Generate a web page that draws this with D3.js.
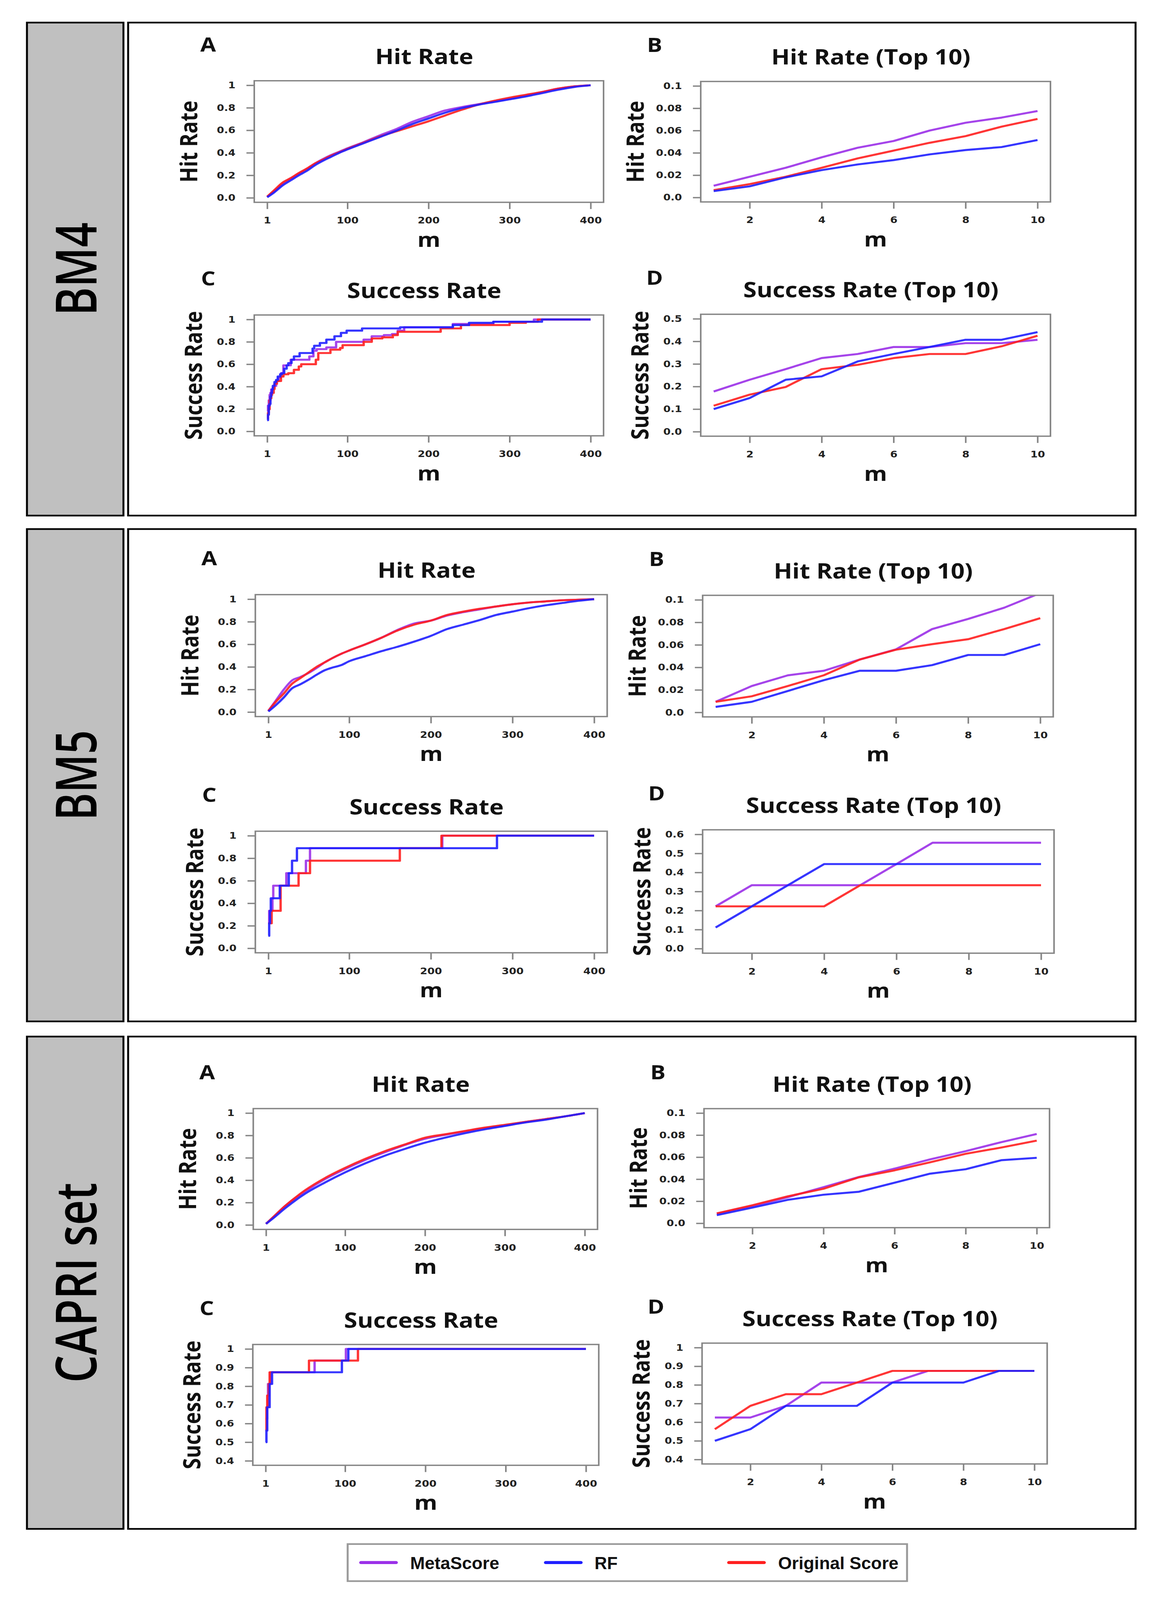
<!DOCTYPE html>
<html>
<head>
<meta charset="utf-8">
<script src="https://cdn.jsdelivr.net/npm/d3@7"></script>
<style>
  html, body { margin: 0; padding: 0; background: #fff; overflow: hidden; }
  #fig { display: block; width: 100vw; height: 100vh; }
</style>
</head>
<body>
<!-- drawn in the 2967x4748 figure space, stretched to whatever the window gives -->
<svg id="fig" viewBox="0 0 2967 4748" preserveAspectRatio="none"></svg>
<script>
// ---- data ----
const sectionNames = ["BM4", "BM5", "CAPRI set"];
const methods = ["MetaScore", "RF", "Original Score"];

const ticks400 = [1, 100, 200, 300, 400];
const ticks10 = [2, 4, 6, 8, 10];
const yTicksUnit = [0, 0.2, 0.4, 0.6, 0.8, 1];
const yLabelsUnit = ["0.0", "0.2", "0.4", "0.6", "0.8", "1"];
const yTicksHit10 = [0, 0.02, 0.04, 0.06, 0.08, 0.1];
const yLabelsHit10 = ["0.0", "0.02", "0.04", "0.06", "0.08", "0.1"];
const yTicksBm4Suc10 = [0, 0.1, 0.2, 0.3, 0.4, 0.5];
const yLabelsBm4Suc10 = ["0.0", "0.1", "0.2", "0.3", "0.4", "0.5"];
const yTicksBm5Suc10 = [0, 0.1, 0.2, 0.3, 0.4, 0.5, 0.6];
const yLabelsBm5Suc10 = ["0.0", "0.1", "0.2", "0.3", "0.4", "0.5", "0.6"];
const yTicksCapri = [0.4, 0.5, 0.6, 0.7, 0.8, 0.9, 1];
const yLabelsCapri = ["0.4", "0.5", "0.6", "0.7", "0.8", "0.9", "1"];

const top10M = [1, 2, 3, 4, 5, 6, 7, 8, 9, 10];

// BM4
const bm4HitMeta = [[1,0.01],[10,0.06],[20,0.126],[30,0.17],[40,0.215],[50,0.255],[60,0.305],[70,0.345],[80,0.38],[90,0.41],[100,0.44],[120,0.495],[140,0.555],[160,0.61],[180,0.675],[200,0.725],[220,0.775],[240,0.805],[260,0.83],[280,0.855],[300,0.88],[320,0.91],[340,0.94],[360,0.97],[380,0.99],[400,1]];
const bm4HitRF = [[1,0.005],[10,0.05],[20,0.11],[30,0.155],[40,0.2],[50,0.24],[60,0.29],[70,0.33],[80,0.365],[90,0.4],[100,0.43],[120,0.485],[140,0.54],[160,0.595],[180,0.655],[200,0.705],[220,0.755],[240,0.795],[260,0.825],[280,0.85],[300,0.875],[320,0.9],[340,0.93],[360,0.96],[380,0.985],[400,1]];
const bm4HitOrig = [[1,0.01],[10,0.07],[20,0.135],[30,0.175],[40,0.22],[50,0.26],[60,0.305],[70,0.34],[80,0.375],[90,0.405],[100,0.435],[120,0.49],[140,0.545],[160,0.59],[180,0.635],[200,0.68],[220,0.73],[240,0.78],[260,0.825],[280,0.86],[300,0.89],[320,0.915],[340,0.94],[360,0.97],[380,0.99],[400,1]];
const bm4Hit10Meta = [0.0105,0.0186,0.0266,0.036,0.0446,0.0506,0.060,0.067,0.0716,0.0775];
const bm4Hit10RF = [0.0057,0.010,0.018,0.0245,0.0296,0.0335,0.0386,0.0425,0.0452,0.0515];
const bm4Hit10Orig = [0.0066,0.012,0.0186,0.0266,0.035,0.042,0.049,0.055,0.0635,0.0704];
const bm4SucMeta = [[1,0.178],[2,0.23],[3,0.277],[4,0.326],[5,0.344],[6,0.375],[8,0.392],[10,0.407],[12,0.45],[15,0.48],[18,0.52],[21,0.59],[30,0.64],[53,0.67],[58,0.72],[62,0.735],[74,0.75],[86,0.8],[120,0.82],[130,0.85],[145,0.86],[155,0.87],[162,0.9],[170,0.93],[230,0.96],[280,0.98],[330,1],[400,1]];
const bm4SucRF = [[1,0.1],[2,0.149],[3,0.23],[4,0.245],[5,0.311],[6,0.344],[7,0.375],[8,0.407],[10,0.441],[12,0.46],[14,0.49],[17,0.51],[19,0.52],[22,0.56],[25,0.59],[27,0.61],[31,0.64],[34,0.67],[41,0.7],[57,0.74],[59,0.765],[66,0.79],[74,0.82],[84,0.85],[92,0.88],[99,0.9],[118,0.92],[165,0.93],[230,0.95],[250,0.97],[280,0.98],[340,1],[400,1]];
const bm4SucOrig = [[1,0.115],[2,0.164],[3,0.198],[4,0.277],[5,0.296],[6,0.326],[7,0.344],[9,0.378],[10,0.425],[13,0.45],[18,0.49],[21,0.51],[27,0.52],[34,0.55],[40,0.58],[43,0.6],[61,0.64],[64,0.7],[79,0.73],[91,0.745],[94,0.77],[120,0.8],[130,0.83],[143,0.84],[156,0.86],[162,0.89],[215,0.92],[240,0.95],[300,0.97],[320,0.98],[335,1],[400,1]];
const bm4Suc10Meta = [0.178,0.23,0.277,0.326,0.344,0.375,0.375,0.392,0.392,0.407];
const bm4Suc10RF = [0.1,0.149,0.23,0.245,0.311,0.344,0.375,0.407,0.407,0.441];
const bm4Suc10Orig = [0.115,0.164,0.198,0.277,0.296,0.326,0.344,0.344,0.378,0.425];

// BM5
const bm5HitMeta = [[1,0.01],[10,0.1],[20,0.2],[30,0.28],[40,0.31],[50,0.345],[60,0.39],[70,0.44],[80,0.48],[90,0.515],[100,0.545],[120,0.6],[140,0.66],[160,0.73],[180,0.785],[200,0.81],[220,0.855],[240,0.885],[260,0.91],[280,0.935],[300,0.955],[320,0.97],[340,0.98],[360,0.99],[380,0.995],[400,1]];
const bm5HitRF = [[1,0.005],[10,0.06],[20,0.13],[30,0.21],[40,0.245],[50,0.285],[60,0.33],[70,0.37],[80,0.395],[90,0.415],[100,0.45],[120,0.495],[140,0.54],[160,0.58],[180,0.625],[200,0.675],[220,0.735],[240,0.775],[260,0.815],[280,0.86],[300,0.89],[320,0.92],[340,0.945],[360,0.965],[380,0.985],[400,1]];
const bm5HitOrig = [[1,0.01],[10,0.09],[20,0.165],[30,0.25],[40,0.3],[50,0.35],[60,0.4],[70,0.44],[80,0.48],[90,0.515],[100,0.545],[120,0.6],[140,0.66],[160,0.725],[180,0.775],[200,0.81],[220,0.86],[240,0.89],[260,0.915],[280,0.935],[300,0.955],[320,0.97],[340,0.98],[360,0.99],[380,0.995],[400,1]];
const bm5Hit10Meta = [0.0094,0.0234,0.0329,0.037,0.047,0.056,0.074,0.083,0.093,0.106];
const bm5Hit10RF = [0.0049,0.0094,0.019,0.0286,0.037,0.037,0.042,0.051,0.051,0.0606];
const bm5Hit10Orig = [0.0094,0.0143,0.0234,0.033,0.047,0.0557,0.0606,0.065,0.074,0.0837];
const bm5SucMeta = [[1,0.222],[2,0.333],[6,0.444],[7,0.556],[23,0.667],[47,0.778],[52,0.889],[214,1],[400,1]];
const bm5SucRF = [[1,0.111],[2,0.222],[3,0.333],[4,0.444],[15,0.556],[26,0.667],[30,0.778],[36,0.889],[281,1],[400,1]];
const bm5SucOrig = [[1,0.222],[5,0.333],[16,0.556],[38,0.667],[52,0.778],[162,0.889],[213,1],[400,1]];
const bm5Suc10Meta = [0.222,0.333,0.333,0.333,0.333,0.444,0.556,0.556,0.556,0.556];
const bm5Suc10RF = [0.111,0.222,0.333,0.444,0.444,0.444,0.444,0.444,0.444,0.444];
const bm5Suc10Orig = [0.222,0.222,0.222,0.222,0.333,0.333,0.333,0.333,0.333,0.333];

// CAPRI set
const capHitMeta = [[1,0.01],[10,0.07],[25,0.17],[50,0.3],[75,0.41],[100,0.5],[125,0.58],[150,0.65],[175,0.715],[200,0.77],[225,0.805],[250,0.835],[275,0.865],[300,0.89],[325,0.92],[350,0.945],[375,0.97],[400,1]];
const capHitRF = [[1,0.01],[10,0.06],[25,0.15],[50,0.28],[75,0.38],[100,0.47],[125,0.55],[150,0.62],[175,0.68],[200,0.735],[225,0.78],[250,0.82],[275,0.855],[300,0.885],[325,0.915],[350,0.94],[375,0.97],[400,1]];
const capHitOrig = [[1,0.01],[10,0.07],[25,0.17],[50,0.31],[75,0.42],[100,0.51],[125,0.59],[150,0.66],[175,0.72],[200,0.78],[225,0.81],[250,0.84],[275,0.87],[300,0.895],[325,0.92],[350,0.945],[375,0.97],[400,1]];
const capHit10Meta = [0.0087,0.0155,0.0237,0.0327,0.042,0.0496,0.058,0.0654,0.0736,0.081];
const capHit10RF = [0.0074,0.0142,0.0213,0.0259,0.0286,0.0368,0.045,0.049,0.0572,0.0594];
const capHit10Orig = [0.009,0.0163,0.0245,0.0313,0.0417,0.048,0.0553,0.063,0.0687,0.075];
const capSucMeta = [[1,0.625],[3,0.6875],[4,0.8125],[7,0.875],[62,0.9375],[101,1],[400,1]];
const capSucRF = [[1,0.5],[2,0.5625],[3,0.6875],[6,0.8125],[9,0.875],[96,0.9375],[104,1],[400,1]];
const capSucOrig = [[1,0.5625],[2,0.6875],[3,0.75],[5,0.8125],[6,0.875],[55,0.9375],[116,1],[400,1]];
const capSuc10Meta = [0.625,0.625,0.6875,0.8125,0.8125,0.8125,0.875,0.875,0.875,0.875];
const capSuc10RF = [0.5,0.5625,0.6875,0.6875,0.6875,0.8125,0.8125,0.8125,0.875,0.875];
const capSuc10Orig = [0.5625,0.6875,0.75,0.75,0.8125,0.875,0.875,0.875,0.875,0.875];

// ---- drawing ----
const svg = d3.select("#fig");
const colors = ["#9b30e8", "#1f1fff", "#ff1f1f"]; // MetaScore, RF, Original Score
const drawOrder = [0, 2, 1];
const titleFont = "'Open Sans', 'Noto Sans', sans-serif";
const tickFont = "'DejaVu Sans', Verdana, sans-serif";

const pairs = vals => vals.map((v, i) => [top10M[i], v]);

// section frames
const sectionY = [[67, 1530], [1570, 3031], [3076, 4537]];
const sectionLen = [277, 268, 594];
sectionNames.forEach((name, i) => {
  const [y0, y1] = sectionY[i];
  svg.append("rect").attr("x", 69).attr("y", y0).attr("width", 247).attr("height", y1 - y0)
    .attr("fill", "#c0c0c0").attr("stroke", "#000").attr("stroke-width", 5);
  svg.append("rect").attr("x", 328).attr("y", y0).attr("width", 2579).attr("height", y1 - y0)
    .attr("fill", "#fff").attr("stroke", "#000").attr("stroke-width", 5);
  const cy = (y0 + y1) / 2;
  svg.append("text")
    .attr("transform", `translate(247,${cy}) rotate(-90)`)
    .attr("text-anchor", "middle")
    .attr("font-family", titleFont).attr("font-weight", 600)
    .attr("font-size", 145)
    .attr("textLength", sectionLen[i]).attr("lengthAdjust", "spacingAndGlyphs")
    .text(name);
});

// one small R-style plot
function drawPlot(p, idx) {
  const x = d3.scaleLinear().domain(p.xDom).range(p.xPx);
  const y = d3.scaleLinear().domain(p.yDom).range(p.yPx);
  const xPad = 0.04 * (p.xDom[1] - p.xDom[0]);
  const yPad = 0.04 * (p.yDom[1] - p.yDom[0]);
  const left = x(p.xDom[0] - xPad), right = x(p.xDom[1] + xPad);
  const top = y(p.yDom[1] + yPad), bottom = y(p.yDom[0] - yPad);
  const g = svg.append("g");

  const clipId = "clip" + idx;
  svg.append("clipPath").attr("id", clipId).append("rect")
    .attr("x", left).attr("y", top).attr("width", right - left).attr("height", bottom - top);

  const line = d3.line().x(d => x(d[0])).y(d => y(d[1]))
    .curve(p.curve === "step" ? d3.curveStepAfter : p.curve === "smooth" ? d3.curveMonotoneX : d3.curveLinear);

  drawOrder.forEach(k => {
    g.append("path").datum(p.series[k])
      .attr("clip-path", `url(#${clipId})`)
      .attr("fill", "none")
      .attr("stroke", colors[k])
      .attr("stroke-opacity", 0.9)
      .attr("stroke-width", 6)
      .attr("stroke-linejoin", "round")
      .attr("d", line);
  });

  g.append("rect").attr("x", left).attr("y", top).attr("width", right - left).attr("height", bottom - top)
    .attr("fill", "none").attr("stroke", "#858585").attr("stroke-width", 4);

  const styleAxis = sel => {
    sel.select(".domain").remove();
    sel.selectAll("line").attr("stroke", "#858585").attr("stroke-width", 4);
    sel.selectAll("text").attr("fill", "#222").attr("font-family", tickFont)
      .attr("font-weight", "bold").attr("font-size", 27);
  };

  g.append("g").attr("transform", `translate(0,${bottom})`)
    .call(d3.axisBottom(x).tickValues(p.xTicks).tickSize(20).tickPadding(24).tickFormat(d3.format("d")))
    .call(styleAxis);

  g.append("g").attr("transform", `translate(${left},0)`)
    .call(d3.axisLeft(y).tickValues(p.yTicks).tickSize(20).tickPadding(28).tickFormat((d, i) => p.yLabels[i]))
    .call(styleAxis);

  const cx = (left + right) / 2;
  g.append("text").attr("x", cx - 12).attr("y", top - 50)
    .attr("text-anchor", "middle").attr("font-family", titleFont).attr("font-weight", 700)
    .attr("font-size", 62).attr("fill", "#111").text(p.title);
  g.append("text").attr("x", left - 118).attr("y", top - 87)
    .attr("text-anchor", "middle").attr("font-family", titleFont).attr("font-weight", 700)
    .attr("font-size", 58).attr("fill", "#111").text(p.letter);
  g.append("text").attr("x", cx).attr("y", bottom + 132)
    .attr("text-anchor", "middle").attr("font-family", titleFont).attr("font-weight", 700)
    .attr("font-size", 60).attr("fill", "#111").text("m");
  const yOff = p.ylab === "Hit Rate" ? 168 : 156;
  g.append("text")
    .attr("transform", `translate(${left - yOff + 22},${(top + bottom) / 2}) rotate(-90)`)
    .attr("text-anchor", "middle").attr("font-family", titleFont).attr("font-weight", 700)
    .attr("font-size", 60).attr("fill", "#111").text(p.ylab);
}

const plots = [
  // BM4
  { letter: "A", title: "Hit Rate", ylab: "Hit Rate", curve: "smooth", xDom: [1, 400], xPx: [684, 1512], yDom: [0, 1], yPx: [587, 253],
    xTicks: ticks400, yTicks: yTicksUnit, yLabels: yLabelsUnit, series: [bm4HitMeta, bm4HitRF, bm4HitOrig] },
  { letter: "B", title: "Hit Rate (Top 10)", ylab: "Hit Rate", curve: "linear", xDom: [1, 10], xPx: [1827, 2656], yDom: [0, 0.1], yPx: [586, 255],
    xTicks: ticks10, yTicks: yTicksHit10, yLabels: yLabelsHit10, series: [pairs(bm4Hit10Meta), pairs(bm4Hit10RF), pairs(bm4Hit10Orig)] },
  { letter: "C", title: "Success Rate", ylab: "Success Rate", curve: "step", xDom: [1, 400], xPx: [684, 1512], yDom: [0, 1], yPx: [1280, 948],
    xTicks: ticks400, yTicks: yTicksUnit, yLabels: yLabelsUnit, series: [bm4SucMeta, bm4SucRF, bm4SucOrig] },
  { letter: "D", title: "Success Rate (Top 10)", ylab: "Success Rate", curve: "linear", xDom: [1, 10], xPx: [1827, 2656], yDom: [0, 0.5], yPx: [1281, 946],
    xTicks: ticks10, yTicks: yTicksBm4Suc10, yLabels: yLabelsBm4Suc10, series: [pairs(bm4Suc10Meta), pairs(bm4Suc10RF), pairs(bm4Suc10Orig)] },
  // BM5
  { letter: "A", title: "Hit Rate", ylab: "Hit Rate", curve: "smooth", xDom: [1, 400], xPx: [687, 1521], yDom: [0, 1], yPx: [2113, 1778],
    xTicks: ticks400, yTicks: yTicksUnit, yLabels: yLabelsUnit, series: [bm5HitMeta, bm5HitRF, bm5HitOrig] },
  { letter: "B", title: "Hit Rate (Top 10)", ylab: "Hit Rate", curve: "linear", xDom: [1, 10], xPx: [1832, 2663], yDom: [0, 0.1], yPx: [2114, 1780],
    xTicks: ticks10, yTicks: yTicksHit10, yLabels: yLabelsHit10, series: [pairs(bm5Hit10Meta), pairs(bm5Hit10RF), pairs(bm5Hit10Orig)] },
  { letter: "C", title: "Success Rate", ylab: "Success Rate", curve: "step", xDom: [1, 400], xPx: [687, 1521], yDom: [0, 1], yPx: [2814, 2480],
    xTicks: ticks400, yTicks: yTicksUnit, yLabels: yLabelsUnit, series: [bm5SucMeta, bm5SucRF, bm5SucOrig] },
  { letter: "D", title: "Success Rate (Top 10)", ylab: "Success Rate", curve: "linear", xDom: [1, 10], xPx: [1832, 2665], yDom: [0, 0.6], yPx: [2815, 2476],
    xTicks: ticks10, yTicks: yTicksBm5Suc10, yLabels: yLabelsBm5Suc10, series: [pairs(bm5Suc10Meta), pairs(bm5Suc10RF), pairs(bm5Suc10Orig)] },
  // CAPRI set
  { letter: "A", title: "Hit Rate", ylab: "Hit Rate", curve: "smooth", xDom: [1, 400], xPx: [681, 1497], yDom: [0, 1], yPx: [3635, 3303],
    xTicks: ticks400, yTicks: yTicksUnit, yLabels: yLabelsUnit, series: [capHitMeta, capHitRF, capHitOrig] },
  { letter: "B", title: "Hit Rate (Top 10)", ylab: "Hit Rate", curve: "linear", xDom: [1, 10], xPx: [1835, 2654], yDom: [0, 0.1], yPx: [3630, 3303],
    xTicks: ticks10, yTicks: yTicksHit10, yLabels: yLabelsHit10, series: [pairs(capHit10Meta), pairs(capHit10RF), pairs(capHit10Orig)] },
  { letter: "C", title: "Success Rate", ylab: "Success Rate", curve: "step", xDom: [1, 400], xPx: [680, 1500], yDom: [0.4, 1], yPx: [4335, 4003],
    xTicks: ticks400, yTicks: yTicksCapri, yLabels: yLabelsCapri, series: [capSucMeta, capSucRF, capSucOrig] },
  { letter: "D", title: "Success Rate (Top 10)", ylab: "Success Rate", curve: "linear", xDom: [1, 10], xPx: [1830, 2648], yDom: [0.4, 1], yPx: [4331, 3999],
    xTicks: ticks10, yTicks: yTicksCapri, yLabels: yLabelsCapri, series: [pairs(capSuc10Meta), pairs(capSuc10RF), pairs(capSuc10Orig)] }
];

plots.forEach(drawPlot);

// legend
const legend = svg.append("g");
legend.append("rect").attr("x", 890).attr("y", 4582).attr("width", 1432).attr("height", 110)
  .attr("fill", "#fff").attr("stroke", "#9a9a9a").attr("stroke-width", 5);
const legLineX = [924, 1397, 1866];
const legTextX = [1050, 1522, 1992];
const legTextLen = [228, 59, 308];
methods.forEach((name, i) => {
  legend.append("line").attr("x1", legLineX[i]).attr("x2", legLineX[i] + 90)
    .attr("y1", 4637).attr("y2", 4637)
    .attr("stroke", colors[i]).attr("stroke-width", 9).attr("stroke-linecap", "round");
  legend.append("text").attr("x", legTextX[i]).attr("y", 4656)
    .attr("font-family", "'Liberation Sans Narrow', 'Liberation Sans', Arial, sans-serif")
    .attr("font-weight", "bold").attr("font-size", 52).attr("fill", "#111")
    .attr("textLength", legTextLen[i]).attr("lengthAdjust", "spacingAndGlyphs")
    .text(name);
});
</script>
</body>
</html>
